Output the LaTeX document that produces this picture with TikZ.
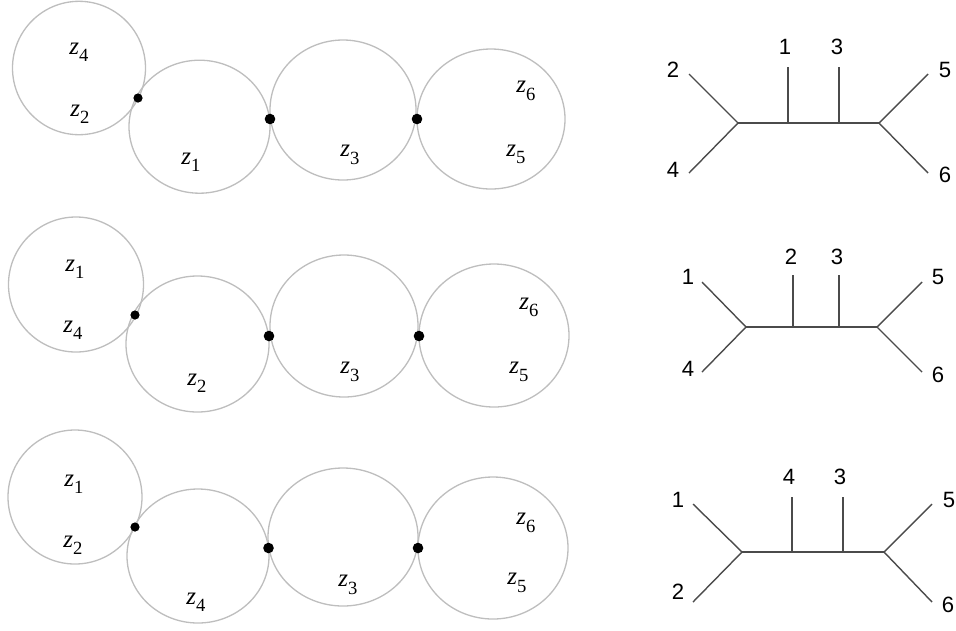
\documentclass[tikz,border=0pt]{standalone}
\usepackage{fontspec}
\setmainfont{Liberation Serif}
\setsansfont{Liberation Sans}
\usepackage{tikz}
\usetikzlibrary{positioning}
\definecolor{ringgray}{RGB}{190,190,190}
\definecolor{branch}{RGB}{75,75,75}
\newcommand{\zsub}[1]{\textit{z}\raisebox{-4.2pt}{\fontsize{10.6}{11}\selectfont #1}}

\begin{document}
\begin{tikzpicture}[x=0.02cm, y=-0.02cm,
  ring/.style={draw=ringgray, line width=0.75pt},
  joint/.style={fill=black},
  zlab/.style={font=\fontsize{14.2}{16}\selectfont, inner sep=0pt},
  leaf/.style={font=\sffamily\fontsize{12.6}{14}\selectfont, inner sep=0pt},
  branchline/.style={draw=branch, line width=0.8pt}]
  \useasboundingbox (0,0) rectangle (956,630);

  % row 1: bubbles
  \draw[ring] (79,68) ellipse [x radius=66.5, y radius=66.7];
  \draw[ring] (199.5,126.7) ellipse [x radius=70.5, y radius=66.5];
  \draw[ring] (343,110) ellipse [x radius=73, y radius=70];
  \draw[ring] (491,119) ellipse [x radius=74, y radius=70];
  \fill[joint] (138,98) circle [radius=4.6];
  \fill[joint] (270,119) circle [radius=5.3];
  \fill[joint] (417,119) circle [radius=5.3];
  \node[zlab] (ra4) at (79,52) {\zsub{4}};
  \node[zlab] (ra2) at (80,114) {\zsub{2}};
  \node[zlab] (ra1) at (191,162) {\zsub{1}};
  \node[zlab] (ra3) at (350,155) {\zsub{3}};
  \node[zlab] (ra6) at (526,91) {\zsub{6}};
  \node[zlab] (ra5) at (516,154.5) {\zsub{5}};

  % row 1: tree
  \coordinate (al) at (738,123);
  \coordinate (am) at (788,123);
  \coordinate (an) at (839,123);
  \coordinate (ar) at (879,123);
  \coordinate (amtop) at (788,67);
  \coordinate (antop) at (839,67);
  \coordinate (aul) at (689,74);
  \coordinate (adl) at (689,173);
  \coordinate (aur) at (928,74);
  \coordinate (adr) at (928,173);
  \node[leaf] (ta2) at (673,70) {2};
  \node[leaf] (ta4) at (673,170) {4};
  \node[leaf] (ta1) at (785,47) {1};
  \node[leaf] (ta3) at (837,47) {3};
  \node[leaf] (ta5) at (945,70) {5};
  \node[leaf] (ta6) at (945,175) {6};
  \draw[branchline] (al) -- (ar);
  \draw[branchline] (aul) -- (al) -- (adl);
  \draw[branchline] (aur) -- (ar) -- (adr);
  \draw[branchline] (am) -- (amtop);
  \draw[branchline] (an) -- (antop);

  % row 2: bubbles
  \draw[ring] (76,284.5) ellipse [x radius=67.5, y radius=67.5];
  \draw[ring] (197.5,344) ellipse [x radius=71.5, y radius=68];
  \draw[ring] (344,326) ellipse [x radius=74, y radius=71];
  \draw[ring] (494,335.5) ellipse [x radius=75, y radius=71.5];
  \fill[joint] (135,315) circle [radius=4.6];
  \fill[joint] (269,336) circle [radius=5.3];
  \fill[joint] (419,336) circle [radius=5.3];
  \node[zlab] (rb1) at (75,269) {\zsub{1}};
  \node[zlab] (rb4) at (73,330) {\zsub{4}};
  \node[zlab] (rb2) at (197,383) {\zsub{2}};
  \node[zlab] (rb3) at (350,372) {\zsub{3}};
  \node[zlab] (rb6) at (529,307.5) {\zsub{6}};
  \node[zlab] (rb5) at (519,372) {\zsub{5}};

  % row 2: tree
  \coordinate (bl) at (746,327);
  \coordinate (bm) at (793,327);
  \coordinate (bn) at (839,327);
  \coordinate (br) at (877,327);
  \coordinate (bmtop) at (793,275);
  \coordinate (bntop) at (839,275);
  \coordinate (bul) at (702,282);
  \coordinate (bdl) at (702,372);
  \coordinate (bur) at (922,282);
  \coordinate (bdr) at (922,372);
  \node[leaf] (tb1) at (688,277) {1};
  \node[leaf] (tb4) at (688,369) {4};
  \node[leaf] (tb2) at (791,257) {2};
  \node[leaf] (tb3) at (837,257) {3};
  \node[leaf] (tb5) at (938,277) {5};
  \node[leaf] (tb6) at (938,375) {6};
  \draw[branchline] (bl) -- (br);
  \draw[branchline] (bul) -- (bl) -- (bdl);
  \draw[branchline] (bur) -- (br) -- (bdr);
  \draw[branchline] (bm) -- (bmtop);
  \draw[branchline] (bn) -- (bntop);

  % row 3: bubbles
  \draw[ring] (75,497) ellipse [x radius=67, y radius=67];
  \draw[ring] (198,556) ellipse [x radius=71, y radius=67];
  \draw[ring] (343,537) ellipse [x radius=75, y radius=69];
  \draw[ring] (493,548) ellipse [x radius=75, y radius=71];
  \fill[joint] (135,527) circle [radius=4.6];
  \fill[joint] (268.5,548) circle [radius=5.3];
  \fill[joint] (418,548) circle [radius=5.3];
  \node[zlab] (rc1) at (74,484) {\zsub{1}};
  \node[zlab] (rc2) at (73,545) {\zsub{2}};
  \node[zlab] (rc4) at (196,602) {\zsub{4}};
  \node[zlab] (rc3) at (348,585) {\zsub{3}};
  \node[zlab] (rc6) at (526,523) {\zsub{6}};
  \node[zlab] (rc5) at (517,583) {\zsub{5}};

  % row 3: tree
  \coordinate (cl) at (742,552);
  \coordinate (cm) at (792,552);
  \coordinate (cn) at (843,552);
  \coordinate (cr) at (884,552);
  \coordinate (cmtop) at (792,497);
  \coordinate (cntop) at (843,497);
  \coordinate (cul) at (693,504);
  \coordinate (cdl) at (693,602);
  \coordinate (cur) at (932,504);
  \coordinate (cdr) at (932,602);
  \node[leaf] (tc1) at (678,500) {1};
  \node[leaf] (tc2) at (678,592) {2};
  \node[leaf] (tc4) at (789,477) {4};
  \node[leaf] (tc3) at (840,477) {3};
  \node[leaf] (tc5) at (949,500) {5};
  \node[leaf] (tc6) at (948,605) {6};
  \draw[branchline] (cl) -- (cr);
  \draw[branchline] (cul) -- (cl) -- (cdl);
  \draw[branchline] (cur) -- (cr) -- (cdr);
  \draw[branchline] (cm) -- (cmtop);
  \draw[branchline] (cn) -- (cntop);
\end{tikzpicture}
\end{document}
